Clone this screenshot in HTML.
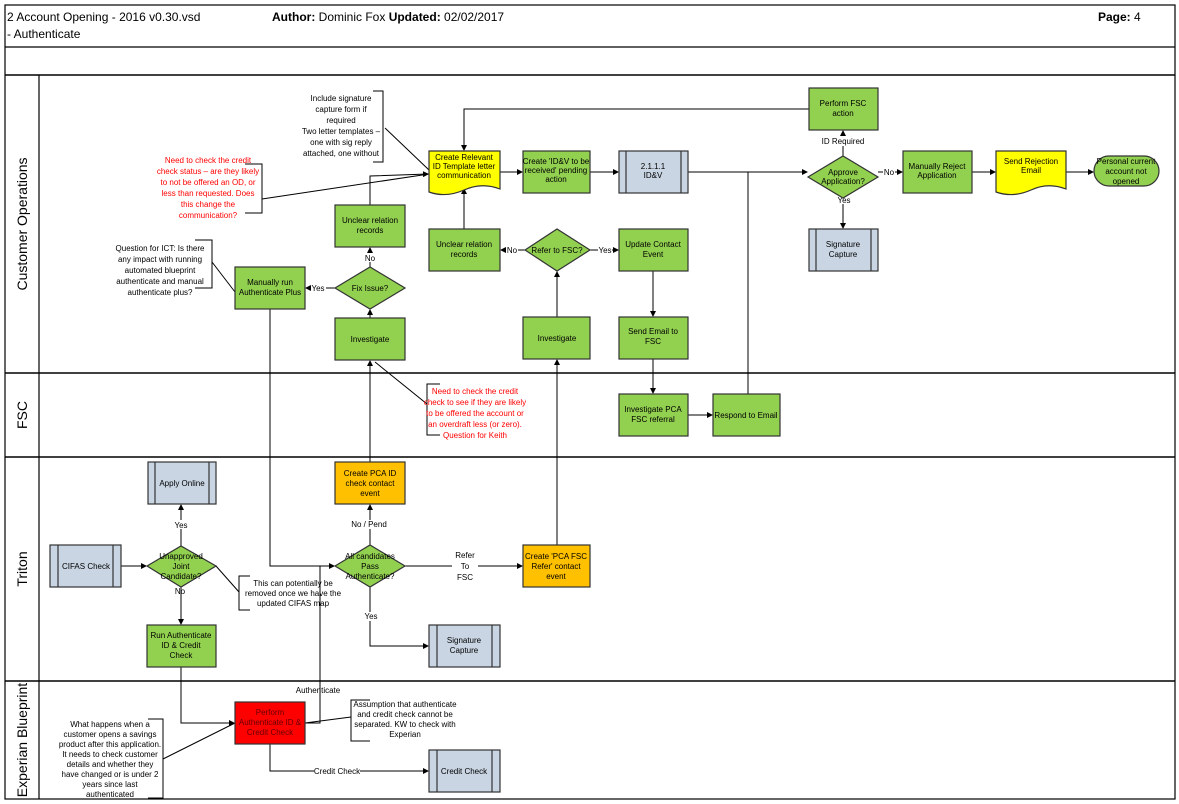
<!DOCTYPE html>
<html><head><meta charset="utf-8"><style>
html,body{margin:0;padding:0;background:#fff}
svg{display:block;font-family:"Liberation Sans",Arial,sans-serif}
</style></head><body>
<svg width="1179" height="804" viewBox="0 0 1179 804" xmlns="http://www.w3.org/2000/svg">
<defs>
<marker id="a" markerWidth="6" markerHeight="6" refX="5" refY="3" orient="auto" markerUnits="userSpaceOnUse"><path d="M0,0 L6,3 L0,6 z" fill="#000"/></marker>
</defs>
<rect x="0" y="0" width="1179" height="804" fill="#fff"/>
<!-- frame -->
<g fill="none" stroke="#000" stroke-width="1.2">
<rect x="5" y="5" width="1170" height="794"/>
<line x1="5" y1="47" x2="1175" y2="47"/>
<line x1="5" y1="75" x2="1175" y2="75" stroke-width="1.5"/>
<line x1="5" y1="373" x2="1175" y2="373" stroke-width="1.5"/>
<line x1="5" y1="457" x2="1175" y2="457" stroke-width="1.5"/>
<line x1="5" y1="681" x2="1175" y2="681" stroke-width="1.5"/>
<line x1="39" y1="75" x2="39" y2="799"/>
</g>
<g font-size="12">
<text x="7" y="21">2 Account Opening - 2016 v0.30.vsd</text>
<text x="7" y="38">- Authenticate</text>
<text x="272" y="21"><tspan font-weight="bold">Author:</tspan> Dominic Fox  <tspan font-weight="bold">Updated:</tspan> 02/02/2017</text>
<text x="1098" y="21"><tspan font-weight="bold">Page:</tspan> 4</text>
</g>
<g font-size="14" text-anchor="middle">
<text transform="translate(27,224) rotate(-90)">Customer Operations</text>
<text transform="translate(27,415) rotate(-90)">FSC</text>
<text transform="translate(27,569) rotate(-90)">Triton</text>
<text transform="translate(27,740) rotate(-90)">Experian Blueprint</text>
</g>

<!-- connectors -->
<g fill="none" stroke="#000" stroke-width="1">
<line x1="500" y1="172" x2="522" y2="172" marker-end="url(#a)"/>
<line x1="590" y1="172" x2="618" y2="172" marker-end="url(#a)"/>
<line x1="688" y1="172" x2="807" y2="172" marker-end="url(#a)"/>
<line x1="748" y1="394" x2="748" y2="172"/>
<line x1="843" y1="156" x2="843" y2="131" marker-end="url(#a)"/>
<polyline points="809,109 464,109 464,150" marker-end="url(#a)"/>
<line x1="878" y1="172" x2="902" y2="172" marker-end="url(#a)"/>
<line x1="972" y1="172" x2="995" y2="172" marker-end="url(#a)"/>
<line x1="1066" y1="172" x2="1093" y2="172" marker-end="url(#a)"/>
<line x1="843" y1="198" x2="843" y2="228" marker-end="url(#a)"/>
<line x1="464" y1="229" x2="464" y2="189" marker-end="url(#a)"/>
<line x1="525" y1="250" x2="501" y2="250" marker-end="url(#a)"/>
<line x1="590" y1="250" x2="618" y2="250" marker-end="url(#a)"/>
<line x1="653" y1="271" x2="653" y2="316" marker-end="url(#a)"/>
<line x1="653" y1="359" x2="653" y2="393" marker-end="url(#a)"/>
<line x1="688" y1="415" x2="712" y2="415" marker-end="url(#a)"/>
<line x1="557" y1="317" x2="557" y2="272" marker-end="url(#a)"/>
<line x1="557" y1="545" x2="557" y2="360" marker-end="url(#a)"/>
<polyline points="370,205 370,176 428,174" marker-end="url(#a)"/>
<line x1="370" y1="267" x2="370" y2="248" marker-end="url(#a)"/>
<line x1="335" y1="288" x2="306" y2="288" marker-end="url(#a)"/>
<line x1="370" y1="318" x2="370" y2="310" marker-end="url(#a)"/>
<line x1="370" y1="462" x2="370" y2="361" marker-end="url(#a)"/>
<line x1="370" y1="545" x2="370" y2="505" marker-end="url(#a)"/>
<line x1="405" y1="566" x2="522" y2="566" marker-end="url(#a)"/>
<polyline points="370,587 370,646 428,646" marker-end="url(#a)"/>
<polyline points="270,309 270,566 334,566" marker-end="url(#a)"/>
<polyline points="305,723 320,723 320,566"/>
<line x1="121" y1="566" x2="146" y2="566" marker-end="url(#a)"/>
<line x1="181" y1="546" x2="181" y2="505" marker-end="url(#a)"/>
<line x1="181" y1="587" x2="181" y2="624" marker-end="url(#a)"/>
<polyline points="181,667 181,723 234,723" marker-end="url(#a)"/>
<polyline points="270,744 270,771 428,771" marker-end="url(#a)"/>
<!-- note leaders -->
<line x1="385" y1="128" x2="429" y2="170"/>
<line x1="262" y1="199" x2="429" y2="174"/>
<line x1="212" y1="262" x2="235" y2="292"/>
<line x1="375" y1="362" x2="427" y2="404"/>
<line x1="216" y1="566" x2="239" y2="592"/>
<line x1="305" y1="723" x2="351" y2="717"/>
<line x1="163" y1="759" x2="235" y2="723"/>
<!-- brackets -->
<polyline points="373,91 383,91 383,162 373,162"/>
<polyline points="245,164 262,164 262,213 245,213"/>
<polyline points="195,240 212,240 212,288 195,288"/>
<polyline points="440,384 427,384 427,435 440,435"/>
<polyline points="250,576 239,576 239,610 250,610"/>
<polyline points="370,700 351,700 351,741 370,741"/>
<polyline points="148,719 163,719 163,798 148,798"/>
</g>
<!-- connector labels -->
<g font-size="8" text-anchor="middle">
<rect x="823" y="136" width="42" height="10" fill="#fff"/><text x="843" y="144">ID Required</text>
<rect x="883" y="168" width="12" height="9" fill="#fff"/><text x="889" y="175">No</text>
<rect x="836" y="195" width="14" height="9" fill="#fff"/><text x="844" y="203">Yes</text>
<rect x="506" y="246" width="12" height="9" fill="#fff"/><text x="512" y="253">No</text>
<rect x="598" y="246" width="14" height="9" fill="#fff"/><text x="605" y="253">Yes</text>
<rect x="364" y="253" width="12" height="9" fill="#fff"/><text x="370" y="261">No</text>
<rect x="311" y="284" width="15" height="9" fill="#fff"/><text x="318" y="291">Yes</text>
<rect x="349" y="520" width="42" height="9" fill="#fff"/><text x="369" y="527">No / Pend</text>
<rect x="452" y="550" width="26" height="32" fill="#fff"/><text x="465" y="558">Refer</text><text x="465" y="569">To</text><text x="465" y="580">FSC</text>
<rect x="364" y="612" width="14" height="9" fill="#fff"/><text x="371" y="619">Yes</text>
<rect x="174" y="520" width="14" height="9" fill="#fff"/><text x="181" y="528">Yes</text>
<text x="180" y="594">No</text>
<text x="318" y="693">Authenticate</text>
<rect x="314" y="767" width="46" height="9" fill="#fff"/><text x="337" y="774">Credit Check</text>
</g>

<!-- nodes -->
<g stroke="#333" stroke-width="1.2">
<!-- green process boxes -->
<g fill="#92d050">
<rect x="523" y="151" width="67" height="42"/>
<rect x="809" y="88" width="69" height="42"/>
<rect x="903" y="151" width="69" height="42"/>
<rect x="335" y="205" width="70" height="42"/>
<rect x="429" y="229" width="71" height="42"/>
<rect x="619" y="229" width="69" height="42"/>
<rect x="235" y="267" width="70" height="42"/>
<rect x="335" y="318" width="70" height="42"/>
<rect x="523" y="317" width="67" height="42"/>
<rect x="619" y="317" width="69" height="42"/>
<rect x="619" y="394" width="69" height="42"/>
<rect x="713" y="394" width="67" height="42"/>
<rect x="147" y="625" width="69" height="42"/>
<polygon points="808,177 843,156 878,177 843,198"/>
<polygon points="525,250 557,229 590,250 557,271"/>
<polygon points="335,288 370,267 405,288 370,309"/>
<polygon points="147,566 181,546 216,566 181,587"/>
<polygon points="335,566 370,545 405,566 370,587"/>
<rect x="1094" y="156" width="65" height="30" rx="15"/>
</g>
<!-- yellow documents -->
<g fill="#ffff00">
<path d="M429,151 H500 V189 Q482,182 464,190 Q446,198 429,192 Z"/>
<path d="M996,151 H1066 V189 Q1048,182 1031,190 Q1013,198 996,192 Z"/>
</g>
<!-- orange -->
<g fill="#ffc000">
<rect x="335" y="462" width="70" height="42"/>
<rect x="523" y="545" width="67" height="42"/>
</g>
<rect x="235" y="702" width="70" height="42" fill="#ff0000"/>
<!-- blue subprocess -->
<g fill="#c9d5e3">
<rect x="619" y="151" width="69" height="42"/>
<rect x="809" y="229" width="69" height="42"/>
<rect x="148" y="462" width="68" height="42"/>
<rect x="50" y="545" width="71" height="42"/>
<rect x="429" y="625" width="71" height="42"/>
<rect x="429" y="750" width="71" height="42"/>
</g>
<g fill="none">
<line x1="626" y1="151" x2="626" y2="193"/><line x1="681" y1="151" x2="681" y2="193"/>
<line x1="816" y1="229" x2="816" y2="271"/><line x1="871" y1="229" x2="871" y2="271"/>
<line x1="155" y1="462" x2="155" y2="504"/><line x1="209" y1="462" x2="209" y2="504"/>
<line x1="58" y1="545" x2="58" y2="587"/><line x1="113" y1="545" x2="113" y2="587"/>
<line x1="437" y1="625" x2="437" y2="667"/><line x1="492" y1="625" x2="492" y2="667"/>
<line x1="437" y1="750" x2="437" y2="792"/><line x1="492" y1="750" x2="492" y2="792"/>
</g>
</g>

<!-- node text -->
<g font-size="8" text-anchor="middle" fill="#000">
<text x="464" y="160">Create Relevant</text><text x="464" y="169">ID Template letter</text><text x="464" y="178">communication</text>
<text x="556" y="164">Create 'ID&amp;V to be</text><text x="556" y="173">received' pending</text><text x="556" y="182">action</text>
<text x="653" y="169">2.1.1.1</text><text x="653" y="178">ID&amp;V</text>
<text x="843" y="106">Perform FSC</text><text x="843" y="116">action</text>
<text x="843" y="175">Approve</text><text x="843" y="184">Application?</text>
<text x="937" y="169">Manually Reject</text><text x="937" y="178">Application</text>
<text x="1031" y="164">Send Rejection</text><text x="1031" y="173">Email</text>
<text x="1126" y="164">Personal current</text><text x="1126" y="174">account not</text><text x="1126" y="184">opened</text>
<text x="843" y="247">Signature</text><text x="843" y="257">Capture</text>
<text x="370" y="223">Unclear relation</text><text x="370" y="233">records</text>
<text x="464" y="247">Unclear relation</text><text x="464" y="257">records</text>
<text x="557" y="253">Refer to FSC?</text>
<text x="653" y="247">Update Contact</text><text x="653" y="257">Event</text>
<text x="270" y="285">Manually run</text><text x="270" y="295">Authenticate Plus</text>
<text x="370" y="291">Fix Issue?</text>
<text x="370" y="342">Investigate</text>
<text x="557" y="341">Investigate</text>
<text x="653" y="334">Send Email to</text><text x="653" y="344">FSC</text>
<text x="653" y="412">Investigate PCA</text><text x="653" y="422">FSC referral</text>
<text x="746" y="418">Respond to Email</text>
<text x="182" y="486">Apply Online</text>
<text x="86" y="569">CIFAS Check</text>
<text x="181" y="559">Unapproved</text><text x="181" y="569">Joint</text><text x="181" y="579">Candidate?</text>
<text x="181" y="638">Run Authenticate</text><text x="181" y="648">ID &amp; Credit</text><text x="181" y="658">Check</text>
<text x="370" y="476">Create PCA ID</text><text x="370" y="486">check contact</text><text x="370" y="496">event</text>
<text x="370" y="559">All candidates</text><text x="370" y="569">Pass</text><text x="370" y="579">Authenticate?</text>
<text x="556" y="559">Create 'PCA FSC</text><text x="556" y="569">Refer' contact</text><text x="556" y="579">event</text>
<text x="464" y="643">Signature</text><text x="464" y="653">Capture</text>
<text x="464" y="774">Credit Check</text>
<text x="270" y="715" fill="#600">Perform</text><text x="270" y="725" fill="#600">Authenticate ID &amp;</text><text x="270" y="735" fill="#600">Credit Check</text>
</g>

<!-- notes -->
<g font-size="8" text-anchor="middle">
<text x="341" y="101">Include signature</text><text x="341" y="112">capture form if</text><text x="341" y="123">required</text><text x="341" y="134">Two letter templates –</text><text x="341" y="145">one with sig reply</text><text x="341" y="156">attached, one without</text>
<g fill="#ff0000">
<text x="208" y="163">Need to check the credit</text><text x="208" y="174">check status – are they likely</text><text x="208" y="185">to not be offered an OD, or</text><text x="208" y="196">less than requested. Does</text><text x="208" y="207">this change the</text><text x="208" y="218">communication?</text>
<text x="475" y="394">Need to check the credit</text><text x="475" y="405">check to see if they are likely</text><text x="475" y="416">to be offered the account or</text><text x="475" y="427">an overdraft less (or zero).</text><text x="475" y="438">Question for Keith</text>
</g>
<text x="160" y="251">Question for ICT: Is there</text><text x="160" y="262">any impact with running</text><text x="160" y="273">automated blueprint</text><text x="160" y="284">authenticate and manual</text><text x="160" y="295">authenticate plus?</text>
<text x="293" y="586">This can potentially be</text><text x="293" y="596">removed once we have the</text><text x="293" y="606">updated CIFAS map</text>
<text x="405" y="707">Assumption that authenticate</text><text x="405" y="717">and credit check cannot be</text><text x="405" y="727">separated. KW to check with</text><text x="405" y="737">Experian</text>
<text x="110" y="727">What happens when a</text><text x="110" y="737">customer opens a savings</text><text x="110" y="747">product after this application.</text><text x="110" y="757">It needs to check customer</text><text x="110" y="767">details and whether they</text><text x="110" y="777">have changed or is under 2</text><text x="110" y="787">years since last</text><text x="110" y="797">authenticated</text>
</g>
</svg>
</body></html>
